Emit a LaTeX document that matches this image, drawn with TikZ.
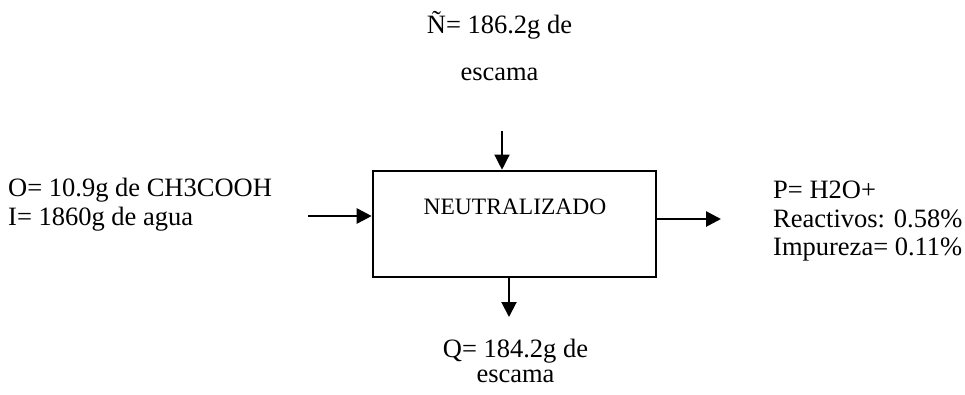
\documentclass[tikz,border=0pt]{standalone}
\usepackage{fontspec}
\setmainfont{Liberation Serif}
\usetikzlibrary{arrows.meta}
\begin{document}
\begin{tikzpicture}[x=1pt,y=-1pt,
  lbl/.style={inner sep=0pt, font=\fontsize{26.5}{29}\selectfont},
  procbox/.style={draw, line width=2.6pt, minimum width=283pt, minimum height=106pt, inner sep=0pt},
  flow/.style={-{Triangle[length=15pt,width=15pt]}},
]
\useasboundingbox (0,0) rectangle (965,394);
\node[procbox] (box) at (514.5,224) {};
\node[inner sep=0pt, anchor=base, font=\fontsize{23.5}{26}\selectfont] (name) at (515,214) {NEUTRALIZADO};
% top input
\node[lbl, anchor=base] (n1) at (499.5,33) {Ñ= 186.2g de};
\node[lbl, anchor=base] (n2) at (499.5,80) {escama};
\coordinate (ntop) at (502,131);
\draw[flow, line width=1.3pt] (ntop) -- (ntop |- box.north);
% left input
\node[lbl, anchor=base west] (o1) at (8,196) {O= 10.9g de CH3COOH};
\node[lbl, anchor=base west] (i1) at (8,225) {I= 1860g de agua};
\coordinate (lin) at (308,216);
\draw[flow, line width=2.7pt] (lin) -- (lin -| box.west);
% right output
\coordinate (rout) at (721,219);
\draw[flow, line width=2.7pt] (rout -| box.east) -- (rout);
\node[lbl, anchor=base west] (p1) at (773,198) {P= H2O+};
\node[lbl, anchor=base west] (p2) at (773,227) {Reactivos: 0.58\%};
\node[lbl, anchor=base west] (p3) at (773,255) {Impureza= 0.11\%};
% bottom output
\coordinate (bout) at (509,317);
\draw[flow, line width=2pt] (bout |- box.south) -- (bout);
\node[lbl, anchor=base] (q1) at (515.5,357) {Q= 184.2g de};
\node[lbl, anchor=base] (q2) at (515.5,382) {escama};
\end{tikzpicture}
\end{document}
